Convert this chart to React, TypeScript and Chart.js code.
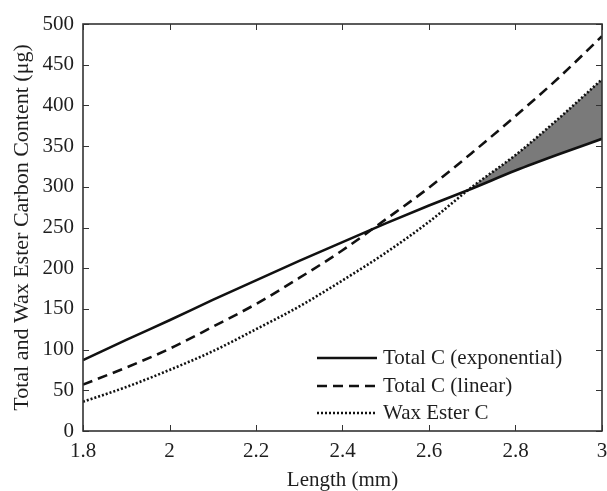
import React, { useEffect, useRef } from "react";
import { Chart, registerables } from "chart.js";

Chart.register(...registerables);

const lengths = [1.8, 1.9, 2.0, 2.1, 2.2, 2.3, 2.4, 2.5, 2.6, 2.7, 2.8, 2.9, 3.0];
const totalExp = [87, 112, 136, 161, 185, 209, 232, 255, 277, 298, 320, 340, 359];
const totalLin = [57, 78, 101, 128, 156, 188, 222, 260, 299, 342, 387, 434, 485];
const waxEster = [36, 54, 75, 98, 125, 153, 185, 219, 257, 300, 339, 384, 432];

const seriesLabels = ["Total C (exponential)", "Total C (linear)", "Wax Ester C"];
const xTitle = "Length (mm)";
const yTitle = "Total and Wax Ester Carbon Content (\u03bcg)";

const FONT = "'Liberation Serif', 'Times New Roman', serif";
const TXT = "#1e1e1e";

const toPts = (ys: number[]) => lengths.map((x, i) => ({ x, y: ys[i] }));

const framePlugin = {
  id: "frame",
  afterDraw(chart: any) {
    const { ctx, chartArea: a, scales } = chart;
    ctx.save();
    ctx.strokeStyle = "#333";
    ctx.lineWidth = 1;
    const tl = 6;
    scales.x.ticks.forEach((t: any) => {
      const px = Math.round(scales.x.getPixelForValue(t.value)) + 0.5;
      ctx.beginPath();
      ctx.moveTo(px, a.bottom);
      ctx.lineTo(px, a.bottom - tl);
      ctx.moveTo(px, a.top);
      ctx.lineTo(px, a.top + tl);
      ctx.stroke();
    });
    scales.y.ticks.forEach((t: any) => {
      const py = Math.round(scales.y.getPixelForValue(t.value)) + 0.5;
      ctx.beginPath();
      ctx.moveTo(a.left, py);
      ctx.lineTo(a.left + tl, py);
      ctx.moveTo(a.right, py);
      ctx.lineTo(a.right - tl, py);
      ctx.stroke();
    });
    ctx.strokeStyle = "#333";
    ctx.lineWidth = 1.6;
    ctx.strokeRect(a.left, a.top, a.right - a.left, a.bottom - a.top);

    const styles = [
      { dash: [] as number[], w: 2.6 },
      { dash: [10, 6], w: 2.6 },
      { dash: [2, 2], w: 2.6 },
    ];
    const x0 = a.right - 285;
    const x1 = a.right - 225;
    const rows = [a.bottom - 73, a.bottom - 45, a.bottom - 18];
    ctx.font = `21px ${FONT}`;
    ctx.textBaseline = "middle";
    ctx.textAlign = "left";
    seriesLabels.forEach((lab, i) => {
      ctx.strokeStyle = "#111";
      ctx.lineWidth = styles[i].w;
      ctx.setLineDash(styles[i].dash);
      ctx.beginPath();
      ctx.moveTo(x0, rows[i]);
      ctx.lineTo(x1, rows[i]);
      ctx.stroke();
      ctx.setLineDash([]);
      ctx.fillStyle = TXT;
      ctx.fillText(lab, x1 + 6, rows[i]);
    });
    ctx.restore();
  },
};

export default function App() {
  const ref = useRef<HTMLCanvasElement>(null);
  useEffect(() => {
    if (!ref.current) return;
    const chart = new Chart(ref.current, {
      type: "line",
      data: {
        datasets: [
          {
            label: seriesLabels[0],
            data: toPts(totalExp),
            borderColor: "#111",
            borderWidth: 2.6,
            pointRadius: 0,
            cubicInterpolationMode: "monotone",
            fill: false,
          },
          {
            label: seriesLabels[1],
            data: toPts(totalLin),
            borderColor: "#111",
            borderWidth: 2.6,
            borderDash: [10, 6],
            pointRadius: 0,
            cubicInterpolationMode: "monotone",
            fill: false,
          },
          {
            label: seriesLabels[2],
            data: toPts(waxEster),
            borderColor: "#111",
            borderWidth: 2.6,
            borderDash: [2, 2],
            pointRadius: 0,
            cubicInterpolationMode: "monotone",
            fill: { target: 0, above: "rgb(122,122,122)", below: "rgba(0,0,0,0)" },
          },
        ],
      },
      options: {
        animation: false,
        responsive: true,
        maintainAspectRatio: false,
        layout: { padding: { top: 24, right: 5, left: 0, bottom: 0 } },
        plugins: { legend: { display: false }, tooltip: { enabled: false } },
        scales: {
          x: {
            type: "linear",
            min: 1.8,
            max: 3,
            grid: { display: false, drawTicks: false },
            border: { display: false },
            ticks: {
              stepSize: 0.2,
              padding: 8,
              color: TXT,
              font: { family: FONT, size: 21 },
              maxRotation: 0,
              callback: (v: any) => String(Number(Number(v).toFixed(1))),
            },
            title: {
              display: true,
              text: xTitle,
              color: TXT,
              font: { family: FONT, size: 21, lineHeight: 1 },
              padding: { top: 0, bottom: 0 },
            },
            afterFit: (s: any) => {
              s.height = 60;
              s.paddingLeft = 0;
              s.paddingRight = 0;
            },
          },
          y: {
            min: 0,
            max: 500,
            grid: { display: false, drawTicks: false },
            border: { display: false },
            ticks: {
              stepSize: 50,
              padding: 9,
              color: TXT,
              font: { family: FONT, size: 21 },
            },
            title: {
              display: true,
              text: yTitle,
              color: TXT,
              font: { family: FONT, size: 22, lineHeight: 1 },
              padding: { top: 11, bottom: 0 },
            },
            afterFit: (s: any) => {
              s.width = 83;
              s.paddingTop = 0;
              s.paddingBottom = 0;
            },
          },
        },
      },
      plugins: [framePlugin],
    });
    return () => chart.destroy();
  }, []);
  return (
    <div style={{ position: "fixed", left: 0, top: 0, width: 607, height: 491, background: "#fff" }}>
      <canvas ref={ref} />
    </div>
  );
}
